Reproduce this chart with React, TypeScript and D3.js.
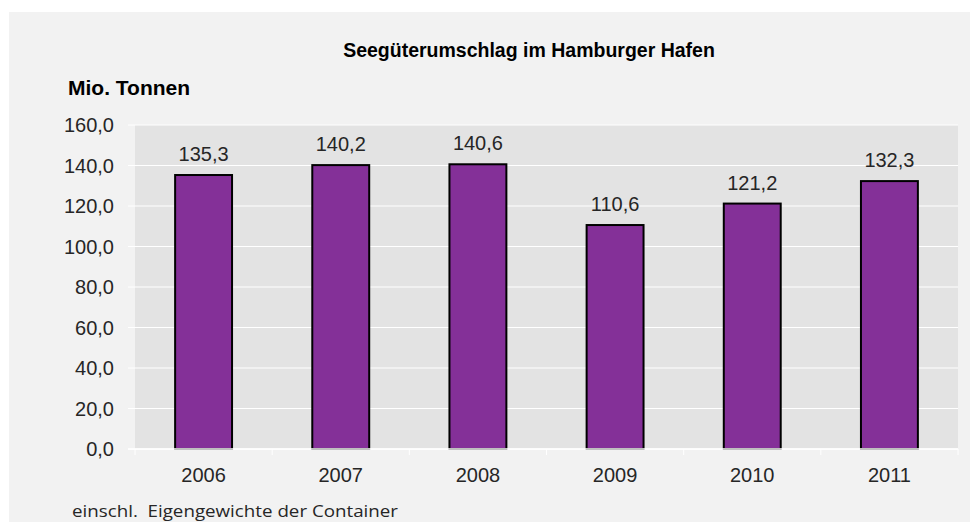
import * as d3 from "d3";

const years = ["2006", "2007", "2008", "2009", "2010", "2011"];
const values = [135.3, 140.2, 140.6, 110.6, 121.2, 132.3];
const yTicks = [0, 20, 40, 60, 80, 100, 120, 140, 160];

const W = 970;
const H = 523;
const plot = { left: 135, right: 958, top: 125, bottom: 449 };

const fmt = (v: number) => v.toFixed(1).replace(".", ",");

export default function App() {
  const x = d3.scaleBand<string>().domain(years).range([plot.left, plot.right]).padding(0);
  const y = d3.scaleLinear().domain([0, 160]).range([plot.bottom, plot.top]);
  const barW = x.bandwidth() * 0.415;
  const font = "'Liberation Sans', Arial, sans-serif";

  return (
    <svg width={W} height={H} style={{ position: "absolute", left: 0, top: 0 }}>
      <rect x={0} y={0} width={W} height={H} fill="#ffffff" />
      <rect x={9} y={12} width={W - 9} height={510} fill="#f2f2f2" />
      <rect x={plot.left} y={plot.top} width={plot.right - plot.left} height={plot.bottom - plot.top} fill="#e3e3e3" />

      {yTicks.map((t) => (
        <g key={t}>
          <line x1={128} x2={plot.right} y1={y(t)} y2={y(t)} stroke="#ffffff" strokeWidth={1} />
          <text x={114} y={y(t)} dy="0.35em" textAnchor="end" fontFamily={font} fontSize={20} fill="#262626">
            {fmt(t)}
          </text>
        </g>
      ))}

      {years.map((yr, i) => {
        const cx = x(yr)! + x.bandwidth() / 2;
        return (
          <g key={yr}>
            <rect
              x={cx - barW / 2}
              y={y(values[i])}
              width={barW}
              height={plot.bottom - y(values[i])}
              fill="#843098"
              stroke="#000000"
              strokeWidth={2}
            />
            <text x={cx} y={y(values[i]) - 14} textAnchor="middle" fontFamily={font} fontSize={20} fill="#262626">
              {fmt(values[i])}
            </text>
            <text x={cx} y={482} textAnchor="middle" fontFamily={font} fontSize={20} fill="#262626">
              {yr}
            </text>
          </g>
        );
      })}

      <line x1={128} x2={plot.right} y1={plot.bottom} y2={plot.bottom} stroke="#ffffff" strokeWidth={1.5} />
      {[...years.map((yr) => x(yr)!), plot.right].map((tx, i) => (
        <line key={i} x1={tx} x2={tx} y1={plot.bottom} y2={plot.bottom + 6} stroke="#ffffff" strokeWidth={1} />
      ))}

      <text x={529} y={57} textAnchor="middle" fontFamily={font} fontSize={19.5} fontWeight="bold" fill="#000000">
        Seegüterumschlag im Hamburger Hafen
      </text>
      <text x={68} y={95} fontFamily={font} fontSize={21} fontWeight="bold" fill="#000000">
        Mio. Tonnen
      </text>
      <text
        x={72}
        y={517}
        fontFamily="'Open Sans', 'Noto Sans', sans-serif"
        fontSize={17}
        textLength={326}
        lengthAdjust="spacingAndGlyphs"
        fill="#262626"
      >
        {"einschl.\u00a0 Eigengewichte der Container"}
      </text>
    </svg>
  );
}
